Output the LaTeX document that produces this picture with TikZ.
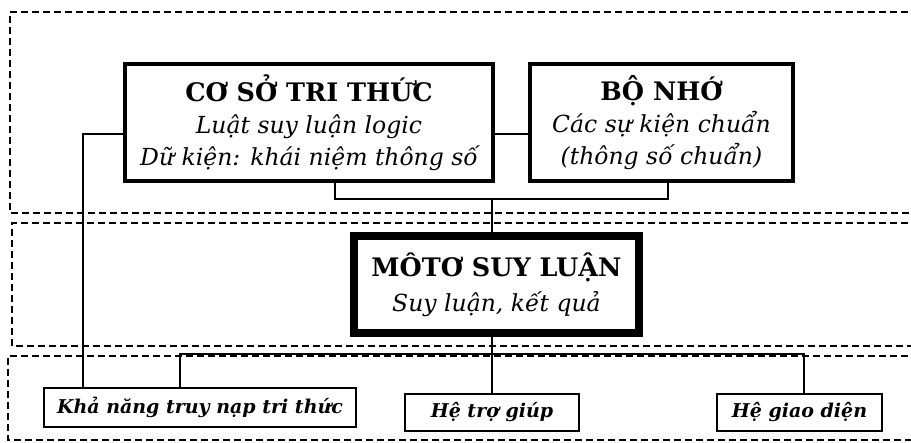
\documentclass[tikz,border=0pt]{standalone}
\usepackage{fontspec}
\setmainfont{DejaVu Serif}
\newcommand{\ttlfont}{\fontsize{25.5}{32}\selectfont\bfseries}
\newcommand{\subfont}{\fontsize{23.5}{32}\selectfont\itshape}
\begin{document}
\begin{tikzpicture}[x=1pt,y=-1pt,
  region/.style={line width=1.5pt,dash pattern=on 7pt off 4pt},
  bigbox/.style={draw,line width=4pt,inner sep=0pt,outer sep=0pt,align=center,
     font=\fontsize{23.5}{32}\selectfont},
  motorbox/.style={draw,line width=8pt,inner sep=0pt,outer sep=0pt,align=center,
     font=\fontsize{23.5}{35}\selectfont},
  smallbox/.style={draw,line width=1.6pt,inner sep=0pt,outer sep=0pt,align=center,
     font=\fontsize{19}{22}\selectfont\bfseries\itshape},
  conn/.style={line width=1.8pt},
]
\useasboundingbox (0,0) rectangle (911,443);
% dashed regions
\draw[region] (930,12) -- (10,12) -- (10,213) -- (930,213);
\draw[region] (930,223) -- (12,223) -- (12,346) -- (930,346);
\draw[region] (930,356) -- (8,356) -- (8,440) -- (930,440);
% boxes
\node[bigbox,minimum width=368pt,minimum height=117pt] (cstt) at (309,122.5)
  {{\ttlfont CƠ SỞ TRI THỨC}\\
   {\subfont Luật suy luận logic}\\
   {\subfont Dữ kiện: khái niệm thông số}};
\node[bigbox,minimum width=263pt,minimum height=117pt] (bn) at (661.5,122.5)
  {{\ttlfont BỘ NHỚ}\\
   {\subfont Các sự kiện chuẩn}\\
   {\subfont (thông số chuẩn)}};
\node[motorbox,minimum width=285pt,minimum height=97pt] (mt) at (496.5,284.5)
  {{\ttlfont MÔTƠ SUY LUẬN}\\
   {\subfont Suy luận, kết quả}};
\node[smallbox,minimum width=312pt,minimum height=39pt] (kn) at (200,407.5) {Khả năng truy nạp tri thức};
\node[smallbox,minimum width=174pt,minimum height=37pt] (htg) at (492,412.5) {Hệ trợ giúp};
\node[smallbox,minimum width=165pt,minimum height=37pt] (hgd) at (799.5,412.5) {Hệ giao diện};
% connectors
\coordinate (j) at (492,199);
\coordinate (hb) at (0,354);
\coordinate (kntop) at ([xshift=-117pt]kn.north);
\coordinate (kntop2) at ([xshift=-20pt]kn.north);
\coordinate (hgdtop) at ([xshift=4.5pt]hgd.north);
\draw[conn] ([yshift=-11.5pt]cstt.west) -| (kntop);
\draw[conn] ([yshift=-11.5pt]cstt.east) -- ([yshift=-11.5pt]bn.west);
\draw[conn] ([xshift=26pt]cstt.south) |- (j) -| ([xshift=6.5pt]bn.south);
\draw[conn] (j) -- (j |- mt.north);
\draw[conn] (htg.north |- mt.south) -- (htg.north);
\draw[conn] (kntop2) |- (hgdtop |- hb) -- (hgdtop);
\end{tikzpicture}
\end{document}
